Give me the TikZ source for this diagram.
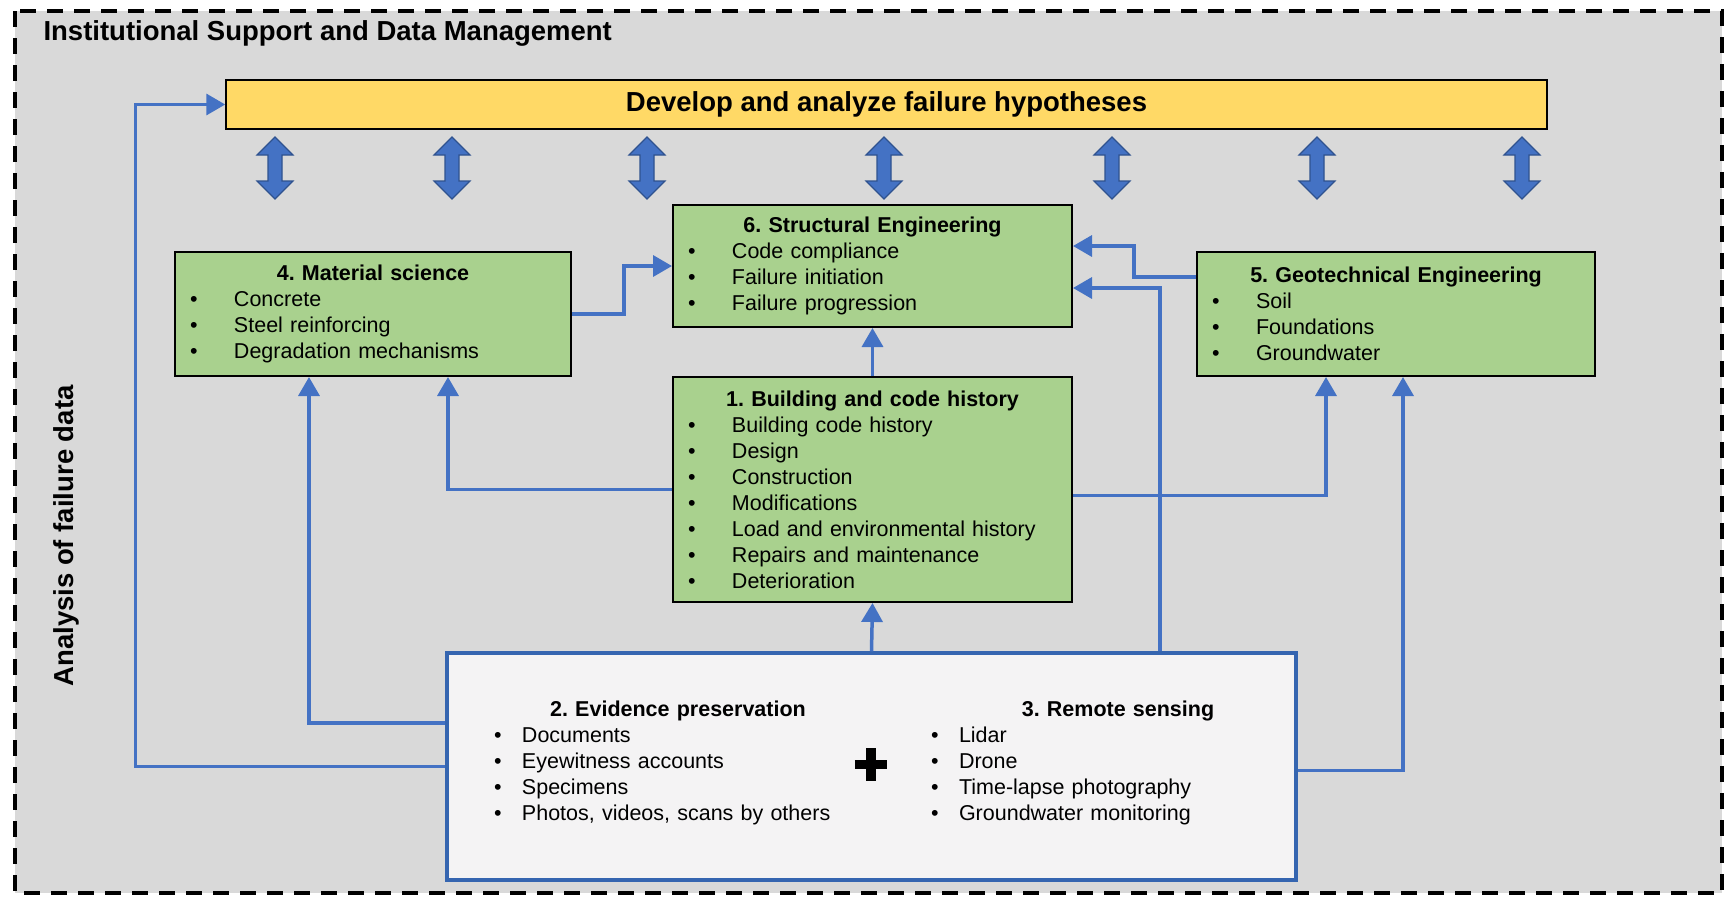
\documentclass[tikz,border=0pt]{standalone}
\usepackage{fontspec}
\setmainfont{Liberation Sans}
\frenchspacing
\usetikzlibrary{arrows.meta}
\definecolor{bggray}{HTML}{D9D9D9}
\definecolor{hypyellow}{HTML}{FFD966}
\definecolor{areagreen}{HTML}{A9D18E}
\definecolor{flowblue}{HTML}{4472C4}
\definecolor{arrowedge}{HTML}{2F528F}
\definecolor{evidfill}{HTML}{F4F3F4}
\definecolor{evidedge}{HTML}{3565B0}
\newcommand{\itemfont}{\fontsize{21.5}{26}\selectfont}
\newcommand{\headfont}{\fontsize{27.5}{33}\selectfont\bfseries}
\newcommand{\boxhead}[1]{\makebox[\hsize]{\bfseries #1}}
\newcommand{\itm}[1]{\hspace*{15pt}\makebox[44pt][l]{\textbullet}#1}
\newcommand{\evitm}[1]{\makebox[28pt][l]{\textbullet}#1}
\begin{document}
\begin{tikzpicture}[x=1pt, y=-1pt,
    outerframe/.style={draw=black, line width=4pt, dash pattern=on 16pt off 11pt, fill=bggray},
    hypbox/.style={draw=black, line width=1.5pt, fill=hypyellow, minimum width=1321pt, minimum height=49pt, inner sep=0pt, font=\headfont},
    areabox/.style={draw=black, line width=2pt, fill=areagreen, text width=399pt, minimum height=124pt, inner xsep=0pt, align=left, font=\itemfont},
    evidbox/.style={draw=evidedge, line width=3.5pt, fill=evidfill, minimum width=849pt, minimum height=227pt},
    evidcol/.style={inner sep=0pt, align=left, font=\itemfont},
    flow/.style={draw=flowblue, line width=3.5pt, -{Triangle[length=19pt,width=21pt]}},
    dblarrow/.pic={
      \draw[line width=1.2pt, draw=arrowedge, fill=flowblue] (0,0) -- (18,18) -- (7,18) -- (7,44) -- (18,44) -- (0,62) -- (-18,44) -- (-7,44) -- (-7,18) -- (-18,18) -- cycle;
    }]
  \useasboundingbox (0,0) rectangle (1733,898);
  \draw[outerframe] (15,11) rectangle (1722,893);
  \node[anchor=base west, font=\headfont] (title) at (40,40) {Institutional Support and Data Management};
  \node[rotate=90, anchor=base, font=\headfont] (axis) at (73,536) {Analysis of failure data};
  \node[hypbox] (hyp) at (886.5,104.5) {Develop and analyze failure hypotheses};
  \foreach \xa in {275,452,647,884,1112,1317,1522}
    \pic at (\xa,137) {dblarrow};
  \node[areabox, minimum height=122pt] (struct) at (872.5,266) {\boxhead{6. Structural Engineering}\\ \itm{Code compliance}\\ \itm{Failure initiation}\\ \itm{Failure progression}};
  \node[areabox, text width=396pt] (mat) at (373,314) {\boxhead{4. Material science}\\ \itm{Concrete}\\ \itm{Steel reinforcing}\\ \itm{Degradation mechanisms}};
  \node[areabox, text width=398pt] (geo) at (1396,314) {\boxhead{5. Geotechnical Engineering}\\ \itm{Soil}\\ \itm{Foundations}\\ \itm{Groundwater}};
  \node[areabox, minimum height=225pt] (build) at (872.5,489.5) {\boxhead{1. Building and code history}\\ \itm{Building code history}\\ \itm{Design}\\ \itm{Construction}\\ \itm{Modifications}\\ \itm{Load and environmental history}\\ \itm{Repairs and maintenance}\\ \itm{Deterioration}};
  \node[evidbox] (evid) at (871.5,766.5) {};
  \node[evidcol, text width=368pt] (pres) at (678,763) {\boxhead{2. Evidence preservation}\\ \evitm{Documents}\\ \evitm{Eyewitness accounts}\\ \evitm{Specimens}\\ \evitm{Photos, videos, scans by others}};
  \node[evidcol, text width=374pt] (sens) at (1118,763) {\boxhead{3. Remote sensing}\\ \evitm{Lidar}\\ \evitm{Drone}\\ \evitm{Time-lapse photography}\\ \evitm{Groundwater monitoring}};
  \node[minimum size=32pt, inner sep=0pt] (plus) at (871,764.5) {};
  \draw[line width=9.5pt] (plus.north) -- (plus.south) (plus.west) -- (plus.east);
  \draw[flow] (mat.east) -- ++(52,0) |- (struct.west);
  \draw[flow] (build.north) -- (struct.south);
  \draw[flow] (evid.north) -- (build.south);
  \draw[flow] ([yshift=43.5pt]evid.west) -| ([xshift=-64pt]mat.south);
  \draw[flow] (evid.west) -- ++(-310,0) |- (hyp.west);
  \draw[flow] (build.west) -| ([xshift=75pt]mat.south);
  \draw[flow] ([yshift=-6pt]build.east) -| ([xshift=-70pt]geo.south);
  \draw[flow] ([yshift=-4pt]evid.east) -| ([xshift=7pt]geo.south);
  \draw[flow] ([yshift=37pt]geo.west) -- ++(-62,0) |- ([yshift=20pt]struct.east);
  \draw[flow] ([xshift=288.5pt]evid.north) |- ([yshift=-22pt]struct.east);
\end{tikzpicture}
\end{document}
